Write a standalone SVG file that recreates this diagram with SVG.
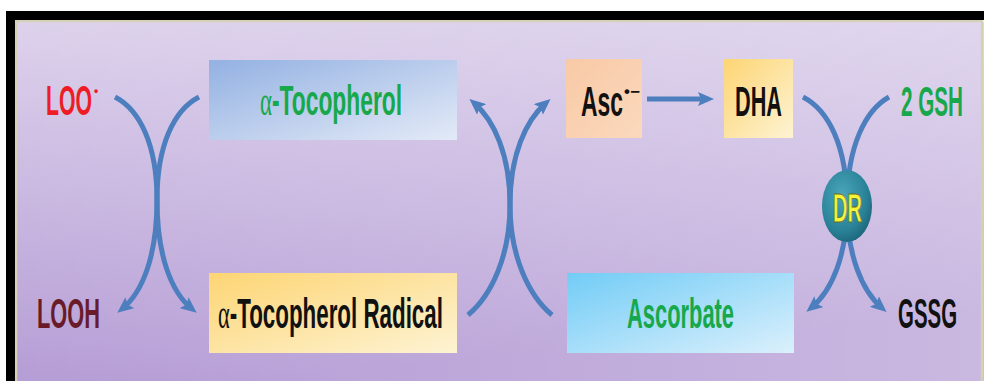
<svg xmlns="http://www.w3.org/2000/svg" width="984" height="381" viewBox="0 0 984 381">
<style>
.lbl{font-family:"Liberation Sans",Arial,sans-serif;font-weight:bold;font-size:43px}
.alpha{font-family:"Liberation Serif","Times New Roman",serif;font-weight:normal}
.conn{fill:none;stroke:#4d7fbf;stroke-width:5;stroke-linecap:butt}
.green{fill:#17a84b}
.black{fill:#111}
</style>
<defs>
<linearGradient id="bg" x1="0" y1="0" x2="0.25" y2="1">
<stop offset="0" stop-color="#ddd2ec"/>
<stop offset="1" stop-color="#b39ad4"/>
</linearGradient>
<linearGradient id="bgr" x1="0" y1="0" x2="1" y2="0">
<stop offset="0" stop-color="#ffffff" stop-opacity="0"/>
<stop offset="1" stop-color="#ffffff" stop-opacity="0.3"/>
</linearGradient>
<linearGradient id="gBlue" x1="0" y1="0" x2="1" y2="1">
<stop offset="0" stop-color="#93b1e2"/>
<stop offset="1" stop-color="#e3eaf7"/>
</linearGradient>
<linearGradient id="gYel" x1="0" y1="0" x2="1" y2="1">
<stop offset="0" stop-color="#fdd574"/>
<stop offset="1" stop-color="#fdf3d3"/>
</linearGradient>
<linearGradient id="gPeach" x1="0" y1="0" x2="1" y2="1">
<stop offset="0" stop-color="#f8c9a6"/>
<stop offset="1" stop-color="#fbd9bd"/>
</linearGradient>
<linearGradient id="gSky" x1="0" y1="0" x2="1" y2="1">
<stop offset="0" stop-color="#72ccf6"/>
<stop offset="1" stop-color="#dbf0fc"/>
</linearGradient>
<radialGradient id="gDR" cx="0.4" cy="0.35" r="0.7">
<stop offset="0" stop-color="#4aa6bb"/>
<stop offset="0.7" stop-color="#2a8298"/>
<stop offset="1" stop-color="#1c6478"/>
</radialGradient>
<marker id="ah" markerUnits="userSpaceOnUse" markerWidth="16" markerHeight="14" refX="10" refY="7" orient="auto">
<path d="M0,0 L16,7 L0,14 L3,7 Z" fill="#4d7fbf"/>
</marker>
</defs>

<g id="frame">
<rect x="0" y="0" width="984" height="381" fill="#ffffff"/>
<rect x="17" y="22" width="967" height="359" fill="url(#bg)"/>
<rect x="17" y="22" width="967" height="359" fill="url(#bgr)"/>
<rect x="16" y="21" width="966" height="365" fill="none" stroke="#d6d1b6" stroke-width="2.5"/>
<rect x="6" y="11" width="978" height="9" fill="#000"/>
<rect x="6" y="11" width="9" height="370" fill="#000"/>
</g>

<g id="connectors">
<path class="conn" d="M115,97 C140,110 157,145 157,200 C157,255 143,292 122,309" marker-end="url(#ah)"/>
<path class="conn" d="M199,97 C174,110 157,145 157,200 C157,255 171,292 192,309" marker-end="url(#ah)"/>
<path class="conn" d="M468,315 C492,295 510,255 510,205 C510,155 494,120 474,103" marker-end="url(#ah)"/>
<path class="conn" d="M552,315 C528,295 510,255 510,205 C510,155 526,120 546,103" marker-end="url(#ah)"/>
<path class="conn" d="M647,99 L708,99" marker-end="url(#ah)"/>
<path class="conn" d="M803,97 C828,110 847,145 847,205 C847,255 832,291 811,308" marker-end="url(#ah)"/>
<path class="conn" d="M889,97 C866,110 847,145 847,205 C847,255 862,291 882,308" marker-end="url(#ah)"/>
</g>

<g id="LOO">
<text class="lbl" transform="translate(46,115) scale(0.494,1)" fill="#ee1c25">LOO</text>
<text class="lbl" x="94" y="95" fill="#ee1c25" style="font-size:12px">•</text>
</g>

<g id="tocopherol">
<rect x="209" y="60" width="248" height="80" fill="url(#gBlue)"/>
<text class="lbl green" transform="translate(260,115) scale(0.531,1)"><tspan class="alpha">α</tspan>-Tocopherol</text>
</g>

<g id="LOOH">
<text class="lbl" transform="translate(37,328) scale(0.507,1)" fill="#6a1b2a">LOOH</text>
</g>

<g id="tocopherol-radical">
<rect x="209" y="273" width="248" height="80" fill="url(#gYel)"/>
<text class="lbl black" transform="translate(218,328) scale(0.52,1)"><tspan class="alpha">α</tspan>-Tocopherol Radical</text>
</g>

<g id="asc-radical">
<rect x="566" y="59" width="76" height="79" fill="url(#gPeach)"/>
<text class="lbl black" transform="translate(581,116) scale(0.532,1)">Asc</text>
<text class="lbl black" transform="translate(624,97) scale(1.05,1)" style="font-size:16px">•−</text>
</g>

<g id="DHA">
<rect x="724" y="59" width="69" height="79" fill="url(#gYel)"/>
<text class="lbl black" transform="translate(735,116) scale(0.505,1)">DHA</text>
</g>

<g id="GSH">
<text class="lbl green" transform="translate(901,116) scale(0.481,1)">2 GSH</text>
</g>

<g id="ascorbate">
<rect x="567" y="273" width="227" height="80" fill="url(#gSky)"/>
<text class="lbl green" transform="translate(627,328) scale(0.509,1)">Ascorbate</text>
</g>

<g id="GSSG">
<text class="lbl black" transform="translate(898,328) scale(0.475,1)">GSSG</text>
</g>

<g id="DR">
<ellipse cx="847" cy="206" rx="25" ry="36" fill="url(#gDR)"/>
<text class="lbl" transform="translate(833,222) scale(0.502,1)" style="font-size:40px" fill="#f4f53a" stroke="#6b6b20" stroke-width="0.8">DR</text>
</g>
</svg>
